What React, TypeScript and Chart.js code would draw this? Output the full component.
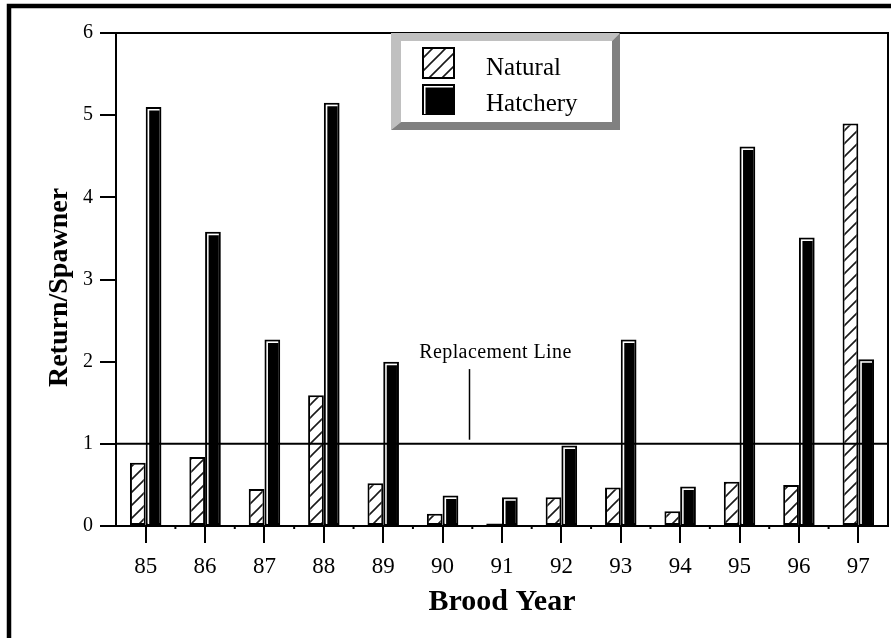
import React, { useEffect, useRef } from 'react';
import { Chart, registerables } from 'chart.js';

Chart.register(...registerables);

// ---------- data ----------
const broodYears = ['85', '86', '87', '88', '89', '90', '91', '92', '93', '94', '95', '96', '97'];
const naturalValues = [0.77, 0.84, 0.45, 1.59, 0.52, 0.15, 0.03, 0.35, 0.47, 0.18, 0.54, 0.5, 4.9];
const hatcheryValues = [5.1, 3.58, 2.27, 5.15, 2.0, 0.37, 0.35, 0.98, 2.27, 0.48, 4.62, 3.51, 2.03];
const yTickValues = [0, 1, 2, 3, 4, 5, 6];
const seriesLabels = ['Natural', 'Hatchery'];
const replacementValue = 1;
const replacementLabel = 'Replacement Line';
const xAxisTitle = 'Brood Year';
const yAxisTitle = 'Return/Spawner';

const SERIF = "'Liberation Serif', 'Times New Roman', Times, serif";

function makeHatch(size: number, width: number): CanvasPattern {
  const c = document.createElement('canvas');
  c.width = size;
  c.height = size;
  const g = c.getContext('2d')!;
  g.fillStyle = '#fff';
  g.fillRect(0, 0, size, size);
  g.strokeStyle = '#1a1a1a';
  g.lineWidth = width;
  g.beginPath();
  g.moveTo(-3, size + 3);
  g.lineTo(size + 3, -3);
  g.moveTo(-3, 3);
  g.lineTo(3, -3);
  g.moveTo(size - 3, size + 3);
  g.lineTo(size + 3, size - 3);
  g.stroke();
  return g.createPattern(c, 'repeat')!;
}

function drawHighlight(ctx: CanvasRenderingContext2D, l: number, r: number, top: number, bottom: number) {
  ctx.save();
  ctx.strokeStyle = '#fff';
  ctx.lineWidth = 1.5;
  ctx.beginPath();
  ctx.moveTo(l + 2.75, bottom);
  ctx.lineTo(l + 2.75, top + 2.75);
  ctx.lineTo(r - 2, top + 2.75);
  ctx.stroke();
  ctx.restore();
}

export default function App() {
  const ref = useRef<HTMLCanvasElement>(null);

  useEffect(() => {
    const hatch = makeHatch(13, 1.6);

    const decor = {
      id: 'decor',
      beforeDraw(chart: any) {
        const { ctx, width, height } = chart;
        ctx.save();
        ctx.fillStyle = '#fff';
        ctx.fillRect(0, 0, width, height);
        ctx.restore();
      },
      afterDatasetsDraw(chart: any) {
        const { ctx, chartArea: a, scales } = chart;
        const xs = scales.x;
        const ys = scales.y;
        // hatchery bar highlight (3D look)
        const meta = chart.getDatasetMeta(1);
        meta.data.forEach((bar: any) => {
          const p = bar.getProps(['x', 'y', 'base', 'width'], true);
          if (p.base - p.y < 6) return;
          drawHighlight(ctx, p.x - p.width / 2, p.x + p.width / 2, p.y, p.base - 1);
        });

        ctx.save();
        ctx.strokeStyle = '#000';
        ctx.lineWidth = 2;
        // replacement line
        const ry = ys.getPixelForValue(replacementValue);
        ctx.beginPath();
        ctx.moveTo(a.left, ry);
        ctx.lineTo(a.right, ry);
        ctx.stroke();
        // top & right frame of plot
        ctx.beginPath();
        ctx.moveTo(a.left - 16, a.top);
        ctx.lineTo(a.right, a.top);
        ctx.lineTo(a.right, a.bottom);
        ctx.stroke();
        // minor ticks between categories
        for (let i = 0; i < broodYears.length - 1; i++) {
          const bx = (xs.getPixelForValue(i) + xs.getPixelForValue(i + 1)) / 2;
          ctx.beginPath();
          ctx.moveTo(bx, a.bottom);
          ctx.lineTo(bx, a.bottom + 3);
          ctx.stroke();
        }
        // annotation pointer + label
        const px = Math.round(xs.getPixelForValue(5.45)) + 0.5;
        ctx.lineWidth = 1.5;
        ctx.beginPath();
        ctx.moveTo(px, ys.getPixelForValue(1.91));
        ctx.lineTo(px, ys.getPixelForValue(1.05));
        ctx.stroke();
        ctx.fillStyle = '#000';
        ctx.font = `20px ${SERIF}`;
        (ctx as any).letterSpacing = '0.4px';
        ctx.textAlign = 'center';
        ctx.textBaseline = 'alphabetic';
        ctx.fillText(replacementLabel, xs.getPixelForValue(5.89), ys.getPixelForValue(2.04));
        ctx.restore();
      },
      afterDraw(chart: any) {
        const { ctx, chartArea: a } = chart;
        ctx.save();
        // y axis title
        ctx.translate(67, (a.top + a.bottom) / 2 + 8);
        ctx.rotate(-Math.PI / 2);
        ctx.fillStyle = '#000';
        ctx.font = `bold 28px ${SERIF}`;
        ctx.textAlign = 'center';
        ctx.textBaseline = 'alphabetic';
        ctx.fillText(yAxisTitle, 0, 0);
        ctx.restore();

        // legend box with bevel
        const L = 391, T = 33, R = 620, B = 130;
        const l = 401, t = 41, r = 612, b = 122;
        ctx.save();
        ctx.fillStyle = '#c0c0c0';
        ctx.beginPath();
        ctx.moveTo(L, B);
        ctx.lineTo(L, T);
        ctx.lineTo(R, T);
        ctx.lineTo(r, t);
        ctx.lineTo(l, t);
        ctx.lineTo(l, b);
        ctx.closePath();
        ctx.fill();
        ctx.fillStyle = '#808080';
        ctx.beginPath();
        ctx.moveTo(R, T);
        ctx.lineTo(R, B);
        ctx.lineTo(L, B);
        ctx.lineTo(l, b);
        ctx.lineTo(r, b);
        ctx.lineTo(r, t);
        ctx.closePath();
        ctx.fill();
        ctx.fillStyle = '#fff';
        ctx.fillRect(l, t, r - l, b - t);

        // swatches
        const sw = [
          { x: 422, y: 47, w: 33, h: 32 },
          { x: 422, y: 84, w: 33, h: 31 },
        ];
        ctx.lineWidth = 2;
        ctx.strokeStyle = '#000';
        ctx.fillStyle = hatch;
        ctx.fillRect(sw[0].x, sw[0].y, sw[0].w, sw[0].h);
        ctx.strokeRect(sw[0].x + 1, sw[0].y + 1, sw[0].w - 2, sw[0].h - 2);
        ctx.fillStyle = '#000';
        ctx.fillRect(sw[1].x, sw[1].y, sw[1].w, sw[1].h);
        drawHighlight(ctx, sw[1].x, sw[1].x + sw[1].w, sw[1].y, sw[1].y + sw[1].h - 1);

        ctx.fillStyle = '#000';
        ctx.font = `25px ${SERIF}`;
        ctx.textAlign = 'left';
        ctx.textBaseline = 'alphabetic';
        const ds = chart.data.datasets;
        ctx.fillText(ds[0].label, 486, 75);
        ctx.fillText(ds[1].label, 486, 111);
        ctx.restore();

        // outer frame
        ctx.save();
        ctx.strokeStyle = '#000';
        ctx.lineWidth = 4.5;
        ctx.strokeRect(9, 6, 3000, 3000);
        ctx.restore();
      },
    };

    const chart = new Chart(ref.current!, {
      type: 'bar',
      data: {
        labels: broodYears,
        datasets: [
          {
            label: seriesLabels[0],
            data: naturalValues,
            backgroundColor: hatch as any,
            borderColor: '#000',
            borderWidth: 2,
            borderSkipped: false,
          },
          {
            label: seriesLabels[1],
            data: hatcheryValues,
            backgroundColor: '#000',
            borderColor: '#000',
            borderWidth: 2,
            borderSkipped: false,
          },
        ],
      },
      options: {
        responsive: false,
        maintainAspectRatio: false,
        devicePixelRatio: 1,
        animation: false,
        categoryPercentage: 0.53,
        barPercentage: 1,
        layout: { padding: { left: 0, top: 33, right: 3, bottom: 0 } },
        plugins: {
          legend: { display: false },
          tooltip: { enabled: false },
        },
        scales: {
          x: {
            afterFit: (s: any) => {
              s.height = 112;
            },
            grid: {
              offset: false,
              drawOnChartArea: false,
              tickLength: 17,
              color: '#000',
              lineWidth: 2,
            },
            border: { color: '#000', width: 2 },
            ticks: {
              color: '#000',
              font: { family: SERIF, size: 23 },
              padding: 10,
              maxRotation: 0,
              autoSkip: false,
            },
            title: {
              display: true,
              text: xAxisTitle,
              color: '#000',
              font: { family: SERIF, size: 30, weight: 'bold' },
              padding: { top: 0, bottom: 18 },
            },
          },
          y: {
            min: 0,
            max: 6,
            afterFit: (s: any) => {
              s.width = 116;
            },
            afterBuildTicks: (s: any) => {
              s.ticks = yTickValues.map((v) => ({ value: v }));
            },
            grid: {
              drawOnChartArea: false,
              tickLength: 16,
              color: '#000',
              lineWidth: 2,
            },
            border: { color: '#000', width: 2 },
            ticks: {
              color: '#000',
              font: { family: SERIF, size: 20 },
              padding: 7,
            },
          },
        },
      },
      plugins: [decor],
    } as any);

    return () => chart.destroy();
  }, []);

  return (
    <div style={{ position: 'absolute', left: 0, top: 0, width: 891, height: 638, background: '#fff' }}>
      <canvas ref={ref} width={891} height={638} style={{ display: 'block', width: 891, height: 638 }} />
    </div>
  );
}
